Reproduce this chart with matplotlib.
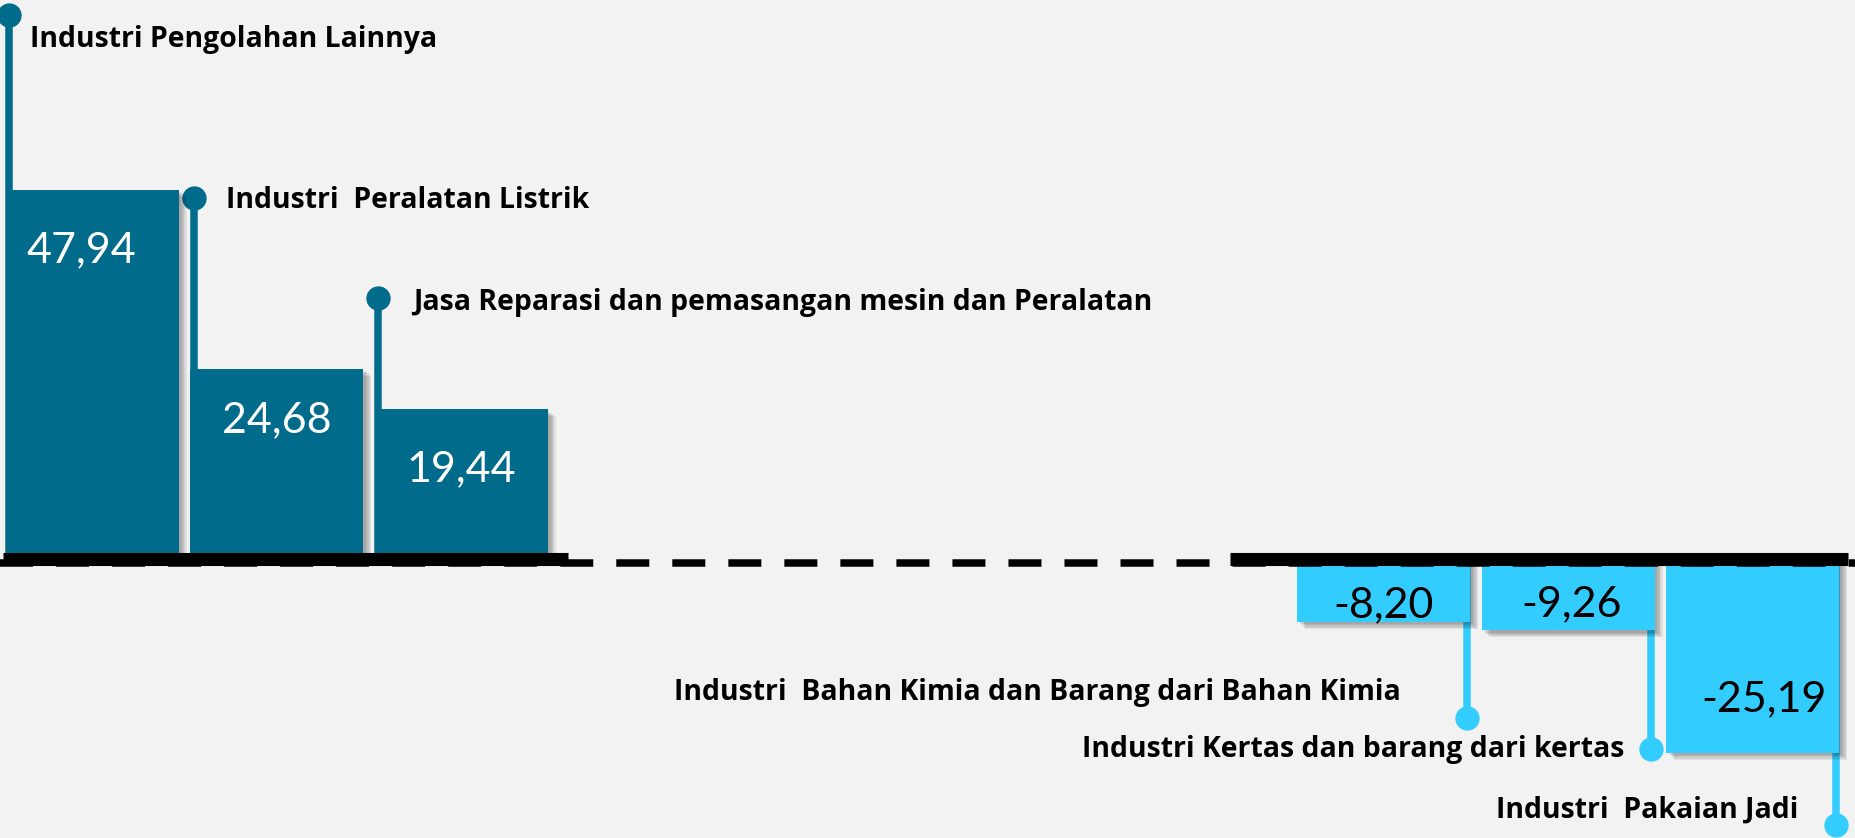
import numpy as np
import matplotlib
matplotlib.use("Agg")
import matplotlib.pyplot as plt
import matplotlib.patheffects as pe

# ---------------- data ----------------
categories = [
    "Industri Pengolahan Lainnya",
    "Industri  Peralatan Listrik",
    "Jasa Reparasi dan pemasangan mesin dan Peralatan",
    "Industri  Bahan Kimia dan Barang dari Bahan Kimia",
    "Industri Kertas dan barang dari kertas",
    "Industri  Pakaian Jadi",
]
values = [47.94, 24.68, 19.44, -8.20, -9.26, -25.19]
value_labels = ["47,94", "24,68", "19,44", "-8,20", "-9,26", "-25,19"]

# ---------------- layout / style ----------------
W, H = 1855, 838
PX_X, X0 = 184.5, 92.0     # pixels per slot, pixel centre of first slot
PX_Y, Y0 = 7.7, 559.0      # pixels per unit, pixel row of zero
slots = np.array([0, 1, 2, 7, 8, 9], dtype=float)
BW = 173 / PX_X
COL_POS = "#006B8A"
COL_NEG = "#33CCFF"
BG = "#F2F2F2"
leader_off = [22.7, 22.2, 14.4, 12.4, 15.4, 9.3]          # circle distance beyond bar end (units)
label_dxdy = [(21, -32), (32, -10), (35, -12), (-66, 18), (-27, -8), (-37, 7)]  # px
value_base_off = [-9.4, -8.2, -9.4, 0.7, 1.8, 5.4]         # baseline of value text rel. to value
value_dx = [-11, 0, 0, 0, 4, 12]                            # px

LABEL_FONT = ["Open Sans", "DejaVu Sans"]
VALUE_FONT = ["Lato", "DejaVu Sans"]

fig = plt.figure(figsize=(W / 100, H / 100), dpi=100)
fig.patch.set_facecolor(BG)
ax = fig.add_axes([0, 0, 1, 1])
ax.set_facecolor(BG)
ax.set_xlim(-X0 / PX_X, (W - X0) / PX_X)
ax.set_ylim(-(H - Y0) / PX_Y, Y0 / PX_Y)
ax.axis("off")

# soft shadow made from a few stacked translucent offsets
shadow = [pe.SimplePatchShadow(offset=(k, -k * 0.8), shadow_rgbFace="#000000", alpha=0.07)
          for k in (6, 5, 4, 3, 2)] + [pe.Normal()]

for i, (cat, v, lab) in enumerate(zip(categories, values, value_labels)):
    x = slots[i]
    positive = v >= 0
    col = COL_POS if positive else COL_NEG
    ax.bar(x, v, width=BW, color=col, zorder=2, path_effects=shadow)

    # leader line + dot
    lx = x - BW / 2 + 3.5 / PX_X if positive else x + BW / 2 - 3.5 / PX_X
    cy = v + leader_off[i] if positive else v - leader_off[i]
    ax.plot([lx, lx], [0, cy], color=col, lw=5.4, zorder=1, solid_capstyle="butt")
    ax.plot([lx], [cy], "o", ms=16.5, color=col, zorder=1)

    dx, dy = label_dxdy[i]
    ax.annotate(cat, xy=(lx, cy), xytext=(dx, dy), textcoords="offset pixels",
                ha="left" if positive else "right", va="baseline",
                fontsize=20.4, fontweight="bold", family=LABEL_FONT, color="black", zorder=5)

    ax.annotate(lab, xy=(x, v + value_base_off[i]), xytext=(value_dx[i], 0),
                textcoords="offset pixels", ha="center", va="baseline",
                fontsize=31, family=VALUE_FONT, color="white" if positive else "black", zorder=5)

# baseline: dashed across, solid under each group
xl = ax.get_xlim()
ax.plot([xl[0], xl[1]], [-4 / PX_Y, -4 / PX_Y], color="black", lw=5.4,
        dashes=(4.4, 3.07), zorder=3)
ax.plot([slots[0] - 0.48, slots[2] + 0.58], [0, 0], color="black", lw=9.4,
        solid_capstyle="butt", zorder=3)
ax.plot([slots[3] - 0.832, slots[5] + 0.518], [0.06, 0.06], color="black", lw=9.4,
        solid_capstyle="butt", zorder=3)

fig.savefig("out.png", dpi=100, facecolor=BG)
